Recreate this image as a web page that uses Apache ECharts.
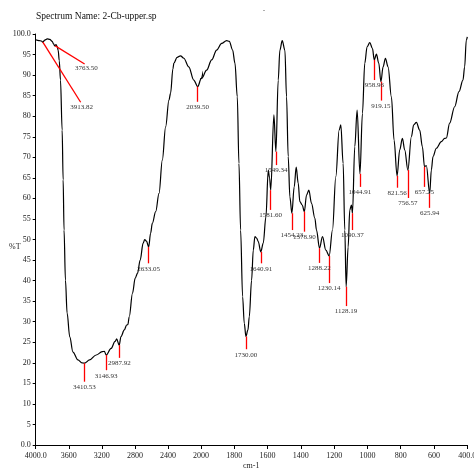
<!DOCTYPE html>
<html><head><meta charset="utf-8">
<script src="https://cdn.jsdelivr.net/npm/echarts@6/dist/echarts.min.js"></script>
<style>html,body{margin:0;padding:0;background:#fff}#c{width:474px;height:472px}</style>
</head><body><div id="c"></div>
<script>
// Spectrum trace: wavenumber (cm-1) and %T
const wavenumbers = [4000,3960,3930,3914,3890,3860,3830,3800,3785,3768,3755,3740,3728,3715,3700,3680,3668,3657,3640,3620,3588,3549,3489,3440,3410,3348,3268,3196,3170,3147,3088,3040,3020,2990,2968,2928,2900,2885,2868,2829,2796,2768,2736,2700,2681,2660,2633,2610,2589,2548,2508,2468,2428,2388,2368,2340,2328,2289,2248,2208,2148,2088,2040,1996,1966,1936,1906,1876,1846,1830,1810,1796,1782,1772,1762,1750,1740,1730,1718,1710,1696,1686,1676,1665,1656,1641,1626,1610,1596,1588,1581,1562,1550,1536,1526,1512,1496,1486,1476,1466,1454,1440,1428,1416,1406,1392,1379,1366,1352,1336,1316,1306,1288,1270,1250,1230,1210,1190,1170,1160,1146,1136,1128,1116,1106,1096,1090,1076,1062,1045,1030,1016,1002,986,970,959,946,932,919,906,892,876,856,840,822,806,790,776,757,736,722,706,686,670,657,646,626,616,606,586,556,536,526,506,476,450,426,416,406,400];
const transmittance = [98.6,98.4,98.3,98.0,98.5,98.8,98.7,98.2,97.6,97.1,97.4,97.0,96.0,93.5,88.8,76.6,64.5,52.3,40.1,32.1,26.3,22.6,20.7,20.0,19.9,20.7,21.9,22.7,22.8,21.9,23.5,25.2,25.8,24.3,26.4,28.0,29.2,29.3,31.2,36.9,40.6,41.8,45.0,49.1,50.0,49.6,48.2,51.5,53.9,56.8,61.2,69.3,77.4,83.9,85.6,91.5,92.9,94.3,94.7,94.1,92.0,88.8,87.2,89.2,91.2,93.7,96.1,97.7,98.4,98.2,96.1,92.9,84.7,68.5,52.3,36.1,29.6,26.4,28.0,31.2,40.1,47.4,50.7,50.3,49.5,47.0,49.1,55.5,66.9,65.0,62.0,80.3,71.4,88.8,96.1,98.4,96.1,84.7,70.2,60.4,56.4,62.8,67.6,63.7,59.2,58.4,56.8,60.8,62.0,58.8,55.2,52.3,47.9,50.7,47.4,46.0,52.3,65.3,76.6,77.9,68.5,52.3,38.5,48.2,57.2,58.4,56.4,72.6,81.5,66.0,80.7,92.9,96.9,97.9,96.5,93.7,95.1,92.9,88.4,92.0,94.1,92.0,84.7,74.2,65.5,71.8,74.6,71.8,66.9,75.0,77.9,78.5,76.6,72.6,67.7,68.0,61.2,66.9,70.2,72.2,73.8,74.6,74.7,78.3,82.3,86.0,88.8,92.0,98.5,99.3];

// Peak annotations
const peakNames = ['3913.82','3763.50','3410.53','3146.93','2987.92','2633.05','2039.50','1730.00','1640.91','1581.60','1549.34','1454.23','1378.90','1288.22','1230.14','1128.19','1090.37','1044.91','958.96','919.15','821.56','756.57','657.25','625.94'];
const peakWn =      [3913.82,3763.5,3410.53,3146.93,2987.92,2633.05,2039.5,1730,1640.91,1581.6,1549.34,1454.23,1378.9,1288.22,1230.14,1128.19,1090.37,1044.91,958.96,919.15,821.56,756.57,657.25,625.94];
const peakT =       [98.0,97.1,19.9,21.9,24.3,48.2,87.2,26.4,47.0,62.0,71.4,56.4,56.8,47.9,46.0,38.5,56.4,66.0,93.7,88.4,65.5,66.9,67.7,61.2];
const leaderEndWn = [3456,3408,3410.53,3146.93,2987.92,2633.05,2039.5,1730,1640.91,1581.6,1549.34,1454.23,1378.9,1288.22,1230.14,1128.19,1090.37,1044.91,958.96,919.15,821.56,756.57,657.25,625.94];
const leaderEndT =  [83.4,92.7,15.4,18.2,21.2,44.2,83.5,23.3,44.2,57.2,68.1,52.3,51.9,44.3,39.4,33.8,52.3,62.8,88.8,83.8,62.6,60.1,62.8,57.7];

// Tick labels
const xTickLabels = {4000:'4000.0',3600:'3600',3200:'3200',2800:'2800',2400:'2400',2000:'2000',1800:'1800',1600:'1600',1400:'1400',1200:'1200',1000:'1000',800:'800',600:'600',400:'400.0'};
const yTickLabels = {0:'0.0',100:'100.0'};

const FONT = 'Liberation Serif';
const spectrum = wavenumbers.map((w,i)=>[w, transmittance[i]]);

function marks(high){
  const d = [];
  peakWn.forEach((w,i)=>{
    if ((w > 2000) === high) {
      d.push([{name: peakNames[i], coord:[w, peakT[i]]},{coord:[leaderEndWn[i], leaderEndT[i]]}]);
    }
  });
  return {
    silent: true, animation: false, symbol: ['none','none'], precision: 2,
    lineStyle: {color:'#ff0000', width:1.3, type:'solid'},
    emphasis: {disabled: true},
    label: {show:true, position:'end', distance:2, align:'center', verticalAlign:'top',
      formatter:'{b}', color:'#333', fontFamily:FONT, fontSize:7},
    data: d
  };
}

const axisCommon = {
  type:'value', inverse:true,
  axisLine:{show:true, onZero:false, lineStyle:{color:'#000', width:1}},
  axisTick:{show:true, inside:false, length:4, lineStyle:{color:'#000'}},
  splitLine:{show:false},
  axisLabel:{color:'#222', fontFamily:FONT, fontSize:8, margin:7}
};

const chart = echarts.init(document.getElementById('c'), null, {renderer:'canvas'});
chart.setOption({
  animation:false,
  backgroundColor:'#fff',
  title:{text:'Spectrum Name: 2-Cb-upper.sp', left:36, top:11, padding:0,
    textStyle:{fontFamily:FONT, fontSize:9.5, fontWeight:'normal', color:'#111'}},
  graphic:[
    {type:'text', left:9, top:243, style:{text:'%T', font:'8px "Liberation Serif"', fill:'#222'}},
    {type:'text', left:243, top:462, style:{text:'cm-1', font:'8px "Liberation Serif"', fill:'#222'}},
    {type:'text', left:263, top:7, style:{text:'-', font:'6px "Liberation Serif"', fill:'#333'}}
  ],
  grid:[
    {left:35.7, top:34, width:165.3, height:411, outerBoundsMode:'none'},
    {left:201, top:34, width:266.3, height:411, outerBoundsMode:'none'}
  ],
  xAxis:[
    Object.assign({}, axisCommon, {gridIndex:0, min:2000, max:4000, interval:400,
      axisLabel:Object.assign({}, axisCommon.axisLabel, {formatter:v=>xTickLabels[v]||''})}),
    Object.assign({}, axisCommon, {gridIndex:1, min:400, max:2000, interval:200,
      axisLabel:Object.assign({}, axisCommon.axisLabel, {formatter:v=>v===2000?'':(xTickLabels[v]||'')})})
  ],
  yAxis:[
    {type:'value', gridIndex:0, min:0, max:100, interval:5,
     axisLine:{show:true, lineStyle:{color:'#000', width:1}},
     axisTick:{show:true, length:3, lineStyle:{color:'#000'}},
     splitLine:{show:false},
     axisLabel:{color:'#222', fontFamily:FONT, fontSize:8, margin:5,
       formatter:v=>yTickLabels[v]!==undefined?yTickLabels[v]:String(v)}},
    {type:'value', gridIndex:1, min:0, max:100, interval:5, show:false,
     splitLine:{show:false}}
  ],
  series:[
    {type:'line', xAxisIndex:0, yAxisIndex:0, data:spectrum, showSymbol:false, smooth:0.35, smoothMonotone:'x',
     clip:true, lineStyle:{color:'#000', width:1.2}, markLine:marks(true)},
    {type:'line', xAxisIndex:1, yAxisIndex:1, data:spectrum, showSymbol:false, smooth:0.35, smoothMonotone:'x',
     clip:true, lineStyle:{color:'#000', width:1.2}, markLine:marks(false)}
  ]
});
</script></body></html>
